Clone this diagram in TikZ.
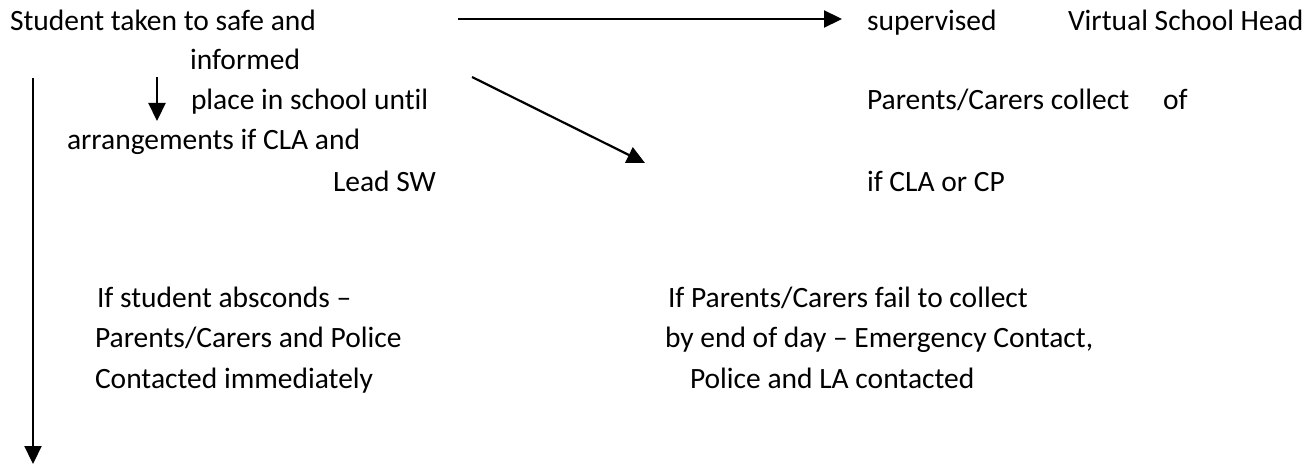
\documentclass[tikz,border=0pt]{standalone}
\usepackage{fontspec}
\setmainfont{Carlito}[Ligatures=NoCommon]
\usetikzlibrary{arrows.meta}
\begin{document}
\begin{tikzpicture}[x=1pt,y=-1pt,
  txt/.style={anchor=base west,inner sep=0pt,outer sep=0pt,font=\fontsize{29.5}{36}\selectfont},
  arr/.style={line width=2.2pt,-{Triangle[length=18pt,width=17pt]}}]
\useasboundingbox (0,0) rectangle (1313,465);
% top row
\node[txt] (t1) at (10,31) {Student taken to safe and};
\node[txt] (t2) at (867,31) {supervised};
\node[txt] (t3) at (1068,31) {Virtual School Head};
\node[txt] (t4) at (190,70) {informed};
\node[txt] (t5) at (191,110) {place in school until};
\node[txt] (t6) at (867,110) {Parents/Carers collect};
\node[txt] (t7) at (1163,110) {of};
\node[txt] (t8) at (67,150) {arrangements if CLA and};
\node[txt] (t9) at (333,192) {Lead SW};
\node[txt] (t10) at (867,192) {if CLA or CP};
% bottom left
\node[txt] (b1) at (97,307) {If student absconds --};
\node[txt] (b2) at (95,347) {Parents/Carers and Police};
\node[txt] (b3) at (95,388) {Contacted immediately};
% bottom right
\node[txt] (c1) at (668,307) {If Parents/Carers fail to collect};
\node[txt] (c2) at (665,347) {by end of day -- Emergency Contact,};
\node[txt] (c3) at (690,388) {Police and LA contacted};
% arrow end points
\coordinate (h0) at (458,19);
\coordinate (h1) at (842,19);
\coordinate (s0) at (157,77);
\coordinate (s1) at (157,121);
\coordinate (d0) at (472,77);
\coordinate (d1) at (645,163);
\coordinate (v0) at (33,78);
\coordinate (v1) at (33,464);
\draw[arr] (h0) -- (h1);
\draw[arr] (s0) -- (s1);
\draw[arr] (d0) -- (d1);
\draw[arr] (v0) -- (v1);
\end{tikzpicture}
\end{document}
